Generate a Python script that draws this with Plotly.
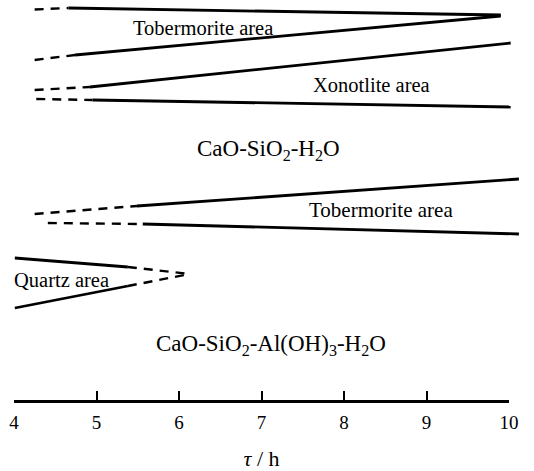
import plotly.graph_objects as go

# ---- data (x in hours, y = schematic vertical position, 0 at top) ----
tick_hours = [4, 5, 6, 7, 8, 9, 10]
tick_labels = ["4", "5", "6", "7", "8", "9", "10"]

# CaO-SiO2-H2O system
tob1_upper_dash_x = [4.25, 4.66]
tob1_upper_dash_y = [9.5, 8]
tob1_upper_x = [4.66, 9.90]
tob1_upper_y = [8, 15]
tob1_lower_dash_x = [4.25, 4.74]
tob1_lower_dash_y = [60, 55]
tob1_lower_x = [4.74, 9.90]
tob1_lower_y = [55, 16]

xon_upper_dash_x = [4.25, 4.92]
xon_upper_dash_y = [90, 87]
xon_upper_x = [4.92, 10.02]
xon_upper_y = [87, 43]
xon_lower_dash_x = [4.27, 4.95]
xon_lower_dash_y = [99, 100]
xon_lower_x = [4.95, 10.02]
xon_lower_y = [100, 107]

# CaO-SiO2-Al(OH)3-H2O system
tob2_upper_dash_x = [4.25, 5.49]
tob2_upper_dash_y = [214, 206]
tob2_upper_x = [5.49, 10.12]
tob2_upper_y = [206, 179]
tob2_lower_dash_x = [4.41, 5.56]
tob2_lower_dash_y = [223, 224]
tob2_lower_x = [5.56, 10.12]
tob2_lower_y = [224, 234]

qtz_upper_x = [4.01, 5.38]
qtz_upper_y = [258, 267]
qtz_upper_dash_x = [5.38, 6.13]
qtz_upper_dash_y = [267, 274]
qtz_lower_x = [4.01, 5.38]
qtz_lower_y = [308, 286]
qtz_lower_dash_x = [5.38, 6.13]
qtz_lower_dash_y = [286, 274]

# (text, hour position of centre, vertical position, font size)
labels = [
    ("Tobermorite area", 6.29, 28, 20.5),
    ("Xonotlite area", 8.33, 85, 20.5),
    ("CaO-SiO<sub>2</sub>-H<sub>2</sub>O", 7.09, 150, 23),
    ("Tobermorite area", 8.45, 210, 21),
    ("Quartz area", 4.58, 280, 20.5),
    ("CaO-SiO<sub>2</sub>-Al(OH)<sub>3</sub>-H<sub>2</sub>O", 7.12, 345, 23),
]

W, H = 534, 471
X0_PX, X1_PX = 14, 509
px_per_h = (X1_PX - X0_PX) / 6.0
full_range = [4 - X0_PX / px_per_h, 10 + (W - X1_PX) / px_per_h]

FONT = "Liberation Serif, Times New Roman, serif"

fig = go.Figure()

# invisible trace so the time axis subplot is created
fig.add_trace(go.Scatter(x=[tick_hours[0], tick_hours[-1]], y=[300, 300], mode="markers",
                         marker=dict(opacity=0), xaxis="x", yaxis="y",
                         showlegend=False, hoverinfo="skip"))

solid = [
    (tob1_upper_x, tob1_upper_y), (tob1_lower_x, tob1_lower_y),
    (xon_upper_x, xon_upper_y), (xon_lower_x, xon_lower_y),
    (tob2_upper_x, tob2_upper_y), (tob2_lower_x, tob2_lower_y),
    (qtz_upper_x, qtz_upper_y), (qtz_lower_x, qtz_lower_y),
]
dashed = [
    (tob1_upper_dash_x, tob1_upper_dash_y), (tob1_lower_dash_x, tob1_lower_dash_y),
    (xon_upper_dash_x, xon_upper_dash_y), (xon_lower_dash_x, xon_lower_dash_y),
    (tob2_upper_dash_x, tob2_upper_dash_y), (tob2_lower_dash_x, tob2_lower_dash_y),
    (qtz_upper_dash_x, qtz_upper_dash_y), (qtz_lower_dash_x, qtz_lower_dash_y),
]
for xs, ys in solid:
    fig.add_trace(go.Scatter(x=xs, y=ys, mode="lines", xaxis="x2", yaxis="y",
                             line=dict(color="black", width=2.8), showlegend=False,
                             hoverinfo="skip"))
for xs, ys in dashed:
    fig.add_trace(go.Scatter(x=xs, y=ys, mode="lines", xaxis="x2", yaxis="y",
                             line=dict(color="black", width=2.4, dash="9px,7px"),
                             showlegend=False, hoverinfo="skip"))

for txt, hx, yy, fs in labels:
    fig.add_annotation(x=hx, y=yy, xref="x2", yref="y", text=txt, showarrow=False,
                       font=dict(family=FONT, size=fs, color="black"),
                       xanchor="center", yanchor="middle")

fig.update_layout(
    width=W, height=H,
    margin=dict(l=0, r=0, t=0, b=71, autoexpand=False),
    paper_bgcolor="white", plot_bgcolor="rgba(0,0,0,0)",
    showlegend=False,
    xaxis=dict(
        domain=[X0_PX / W, X1_PX / W], range=[4, 10], anchor="y",
        automargin=False,
        showline=True, linecolor="black", linewidth=2.5,
        ticks="inside", ticklen=9, tickwidth=1.5, tickcolor="black",
        tickvals=tick_hours, ticktext=tick_labels,
        tickfont=dict(family=FONT, size=19, color="black"),
        ticklabelstandoff=3,
        showgrid=False, zeroline=False,
        title=dict(text="<i>τ</i> / h", font=dict(family=FONT, size=22, color="black"),
                   standoff=22),
    ),
    xaxis2=dict(domain=[0, 1], range=full_range, anchor="y", visible=False,
                automargin=False, showgrid=False, zeroline=False),
    yaxis=dict(range=[400, 0], visible=False, automargin=False,
               showgrid=False, zeroline=False),
)

fig.write_html("out.html")
